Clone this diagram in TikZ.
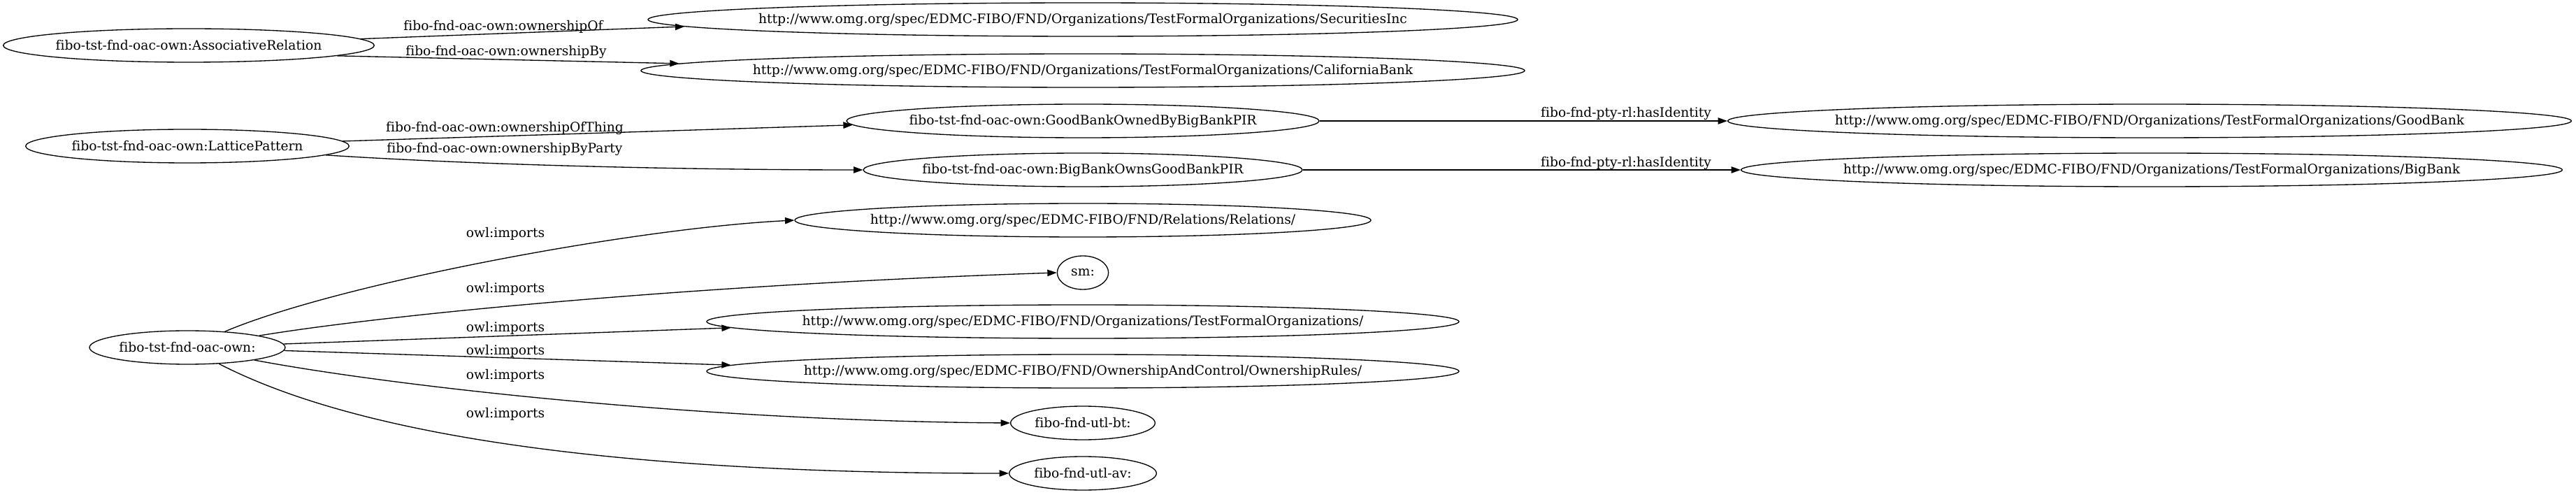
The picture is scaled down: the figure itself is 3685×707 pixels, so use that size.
\documentclass[tikz,border=0pt]{standalone}
\usepackage{fontspec}
\setmainfont{DejaVu Serif}[Ligatures=CommonOff]
\usepackage{tikz}
\usetikzlibrary{arrows.meta,shapes.geometric}

\newcommand{\ctr}[1]{\makebox[0pt]{#1}}

\begin{document}
\begin{tikzpicture}[
  x=0.75pt, y=0.75pt,
  font=\fontsize{14}{17}\selectfont,
  ent/.style={draw, ellipse, line width=1pt, inner sep=0pt, minimum height=36pt, minimum width=#1},
  elab/.style={inner sep=0pt},
  arr/.style={-{Triangle[length=10pt, width=7pt]}, line width=1pt}
]
  \useasboundingbox (0,0) rectangle (3685,707);

  % left column
  \node[ent=398pt] (AR) at (270,642) {\ctr{fibo-tst-fnd-oac-own:AssociativeRelation}};
  \node[ent=347pt] (LP) at (268,498) {\ctr{fibo-tst-fnd-oac-own:LatticePattern}};
  \node[ent=210pt] (own) at (268,210) {\ctr{fibo-tst-fnd-oac-own:}};

  % middle column
  \node[ent=933pt] (SI) at (1549,679) {\ctr{http://www.omg.org/spec/EDMC-FIBO/FND/Organizations/TestFormalOrganizations/SecuritiesInc}};
  \node[ent=948pt] (CB) at (1549,606) {\ctr{http://www.omg.org/spec/EDMC-FIBO/FND/Organizations/TestFormalOrganizations/CaliforniaBank}};
  \node[ent=507pt] (GBO) at (1549,534) {\ctr{fibo-tst-fnd-oac-own:GoodBankOwnedByBigBankPIR}};
  \node[ent=471pt] (BBO) at (1549,464) {\ctr{fibo-tst-fnd-oac-own:BigBankOwnsGoodBankPIR}};
  \node[ent=618pt] (REL) at (1549,392) {\ctr{http://www.omg.org/spec/EDMC-FIBO/FND/Relations/Relations/}};
  \node[ent=55pt] (sm) at (1549,317) {\ctr{sm:}};
  \node[ent=807pt] (TFO) at (1549,247) {\ctr{http://www.omg.org/spec/EDMC-FIBO/FND/Organizations/TestFormalOrganizations/}};
  \node[ent=807pt] (OR) at (1549,176) {\ctr{http://www.omg.org/spec/EDMC-FIBO/FND/OwnershipAndControl/OwnershipRules/}};
  \node[ent=155pt] (bt) at (1549,102) {\ctr{fibo-fnd-utl-bt:}};
  \node[ent=158pt] (av) at (1549,30) {\ctr{fibo-fnd-utl-av:}};

  % right column
  \node[ent=905pt] (GB) at (3075,534) {\ctr{http://www.omg.org/spec/EDMC-FIBO/FND/Organizations/TestFormalOrganizations/GoodBank}};
  \node[ent=881pt] (BB) at (3078,464) {\ctr{http://www.omg.org/spec/EDMC-FIBO/FND/Organizations/TestFormalOrganizations/BigBank}};

  % edges
  \draw[arr] (AR) -- (SI.181.6);
  \draw[arr] (AR.-4) -- (CB.179.2);
  \draw[arr] (LP) -- (GBO.181.2);
  \draw[arr] (LP) .. controls (700,470) and (1000,464) .. (BBO.west);
  \draw[arr] (GBO) -- (GB);
  \draw[arr] (BBO) -- (BB);
  \draw[arr] (own) .. controls (480,300) and (900,380) .. (REL.west);
  \draw[arr] (own) .. controls (560,258) and (1000,300) .. (sm.west);
  \draw[arr] (own) -- (TFO.181.6);
  \draw[arr] (own) -- (OR.179.4);
  \draw[arr] (own) .. controls (560,155) and (1000,105) .. (bt.west);
  \draw[arr] (own) .. controls (520,80) and (900,30) .. (av.west);

  % edge labels
  \node[elab] (l1) at (720,669) {fibo-fnd-oac-own:ownershipOf};
  \node[elab] (l2) at (724,633) {fibo-fnd-oac-own:ownershipBy};
  \node[elab] (l3) at (722,524) {fibo-fnd-oac-own:ownershipOfThing};
  \node[elab] (l4) at (722,494) {fibo-fnd-oac-own:ownershipByParty};
  \node[elab] (l5) at (2326,545) {fibo-fnd-pty-rl:hasIdentity};
  \node[elab] (l6) at (2326,474) {fibo-fnd-pty-rl:hasIdentity};
  \node[elab] (i1) at (723,373) {owl:imports};
  \node[elab] (i2) at (723,294) {owl:imports};
  \node[elab] (i3) at (723,238) {owl:imports};
  \node[elab] (i4) at (723,205) {owl:imports};
  \node[elab] (i5) at (723,170) {owl:imports};
  \node[elab] (i6) at (723,115) {owl:imports};
\end{tikzpicture}
\end{document}
